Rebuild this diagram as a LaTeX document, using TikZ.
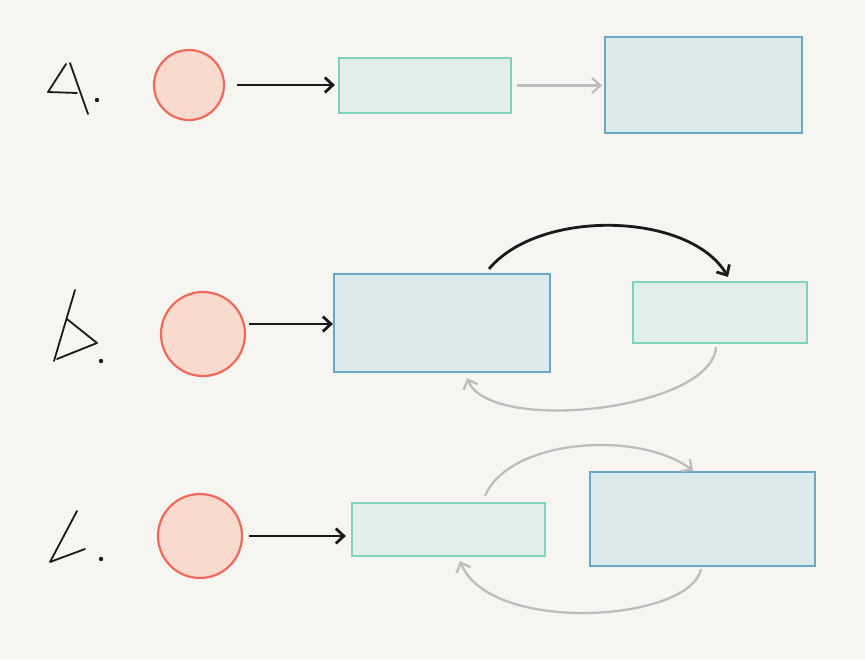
\documentclass[tikz,border=0pt]{standalone}
\usetikzlibrary{arrows.meta,calc}
\definecolor{bg}{HTML}{F6F5F1}
\definecolor{circfill}{HTML}{F8DACE}
\definecolor{circline}{HTML}{EF6A5A}
\definecolor{grfill}{HTML}{E2EEE9}
\definecolor{grline}{HTML}{82D3BD}
\definecolor{blfill}{HTML}{DDEAEB}
\definecolor{blline}{HTML}{6AA8C6}
\definecolor{lightarrow}{HTML}{BDBDBD}
\definecolor{ink}{HTML}{1A1A1A}
\tikzset{
  startcircle/.style={circle, draw=circline, fill=circfill, line width=2.2pt, inner sep=0pt},
  greenbox/.style={rectangle, draw=grline, fill=grfill, line width=2.2pt, inner sep=0pt},
  bluebox/.style={rectangle, draw=blline, fill=blfill, line width=2.2pt, inner sep=0pt},
  darkarrow/.style={draw=ink, line width=2.8pt, -{Straight Barb[length=8pt,width=15pt,line width=2.8pt]}},
  softarrow/.style={draw=lightarrow, line width=2.3pt, -{Straight Barb[length=8pt,width=15pt,line width=2.3pt]}},
  pen/.style={draw=ink, line width=1.8pt, line cap=round, line join=round},
}
\begin{document}
\begin{tikzpicture}[x=1pt,y=-1pt]
\useasboundingbox (0,0) rectangle (865,659);
\fill[bg] (0,0) rectangle (865,659);

% hand-drawn labels
\draw[pen] (66,64) -- (48,92) -- (77,93);
\draw[pen] (70,63) -- (88,114);
\fill[ink] (97,100) circle (2.2);

\draw[pen] (75,290) -- (54,361);
\draw[pen] (67,319) -- (97,343) -- (57,359);
\fill[ink] (101,361) circle (2.2);

\draw[pen] (77,511) -- (50,562) -- (85,549);
\fill[ink] (101,559) circle (2.2);

% row a
\node[startcircle, minimum size=70] (ca) at (189,85) {};
\node[greenbox, minimum width=172, minimum height=55] (ra1) at (425,85.5) {};
\node[bluebox, minimum width=197, minimum height=96] (ra2) at (703.5,85) {};
\draw[darkarrow, shorten <=12pt, shorten >=3pt] (ca.east) -- (ra1.west |- ca.east);
\draw[softarrow, shorten <=5pt, shorten >=2pt] (ra1.east) -- (ra2.west |- ra1.east);

% row b
\node[startcircle, minimum size=84] (cb) at (203,334) {};
\node[bluebox, minimum width=216, minimum height=98] (rb1) at (442,323) {};
\node[greenbox, minimum width=174, minimum height=61] (rb2) at (720,312.5) {};
\draw[darkarrow, shorten <=3pt] ([yshift=10pt]cb.east) -- (rb1.west |- 0,324);
\draw[darkarrow] ([xshift=47pt,yshift=4pt]rb1.north) .. controls (540,208) and (690,212) .. ([xshift=8pt,yshift=4pt]rb2.north);
\draw[softarrow] ([xshift=-4pt,yshift=-3pt]rb2.south) .. controls (712,410) and (490,435) .. ([xshift=25pt,yshift=-5pt]rb1.south);

% row c
\node[startcircle, minimum size=84] (cc) at (200,536) {};
\node[greenbox, minimum width=193, minimum height=53] (rc1) at (448.5,529.5) {};
\node[bluebox, minimum width=225, minimum height=94] (rc2) at (702.5,519) {};
\draw[darkarrow, shorten <=6pt, shorten >=5pt] (cc.east) -- (rc1.west |- cc.east);
\draw[softarrow] ([xshift=36.5pt,yshift=6pt]rc1.north) .. controls (510,438) and (640,430) .. ([xshift=-9.5pt]rc2.north);
\draw[softarrow] ([xshift=-1.5pt,yshift=-2pt]rc2.south) .. controls (690,622) and (490,635) .. ([xshift=11.5pt,yshift=-4pt]rc1.south);
\end{tikzpicture}
\end{document}
